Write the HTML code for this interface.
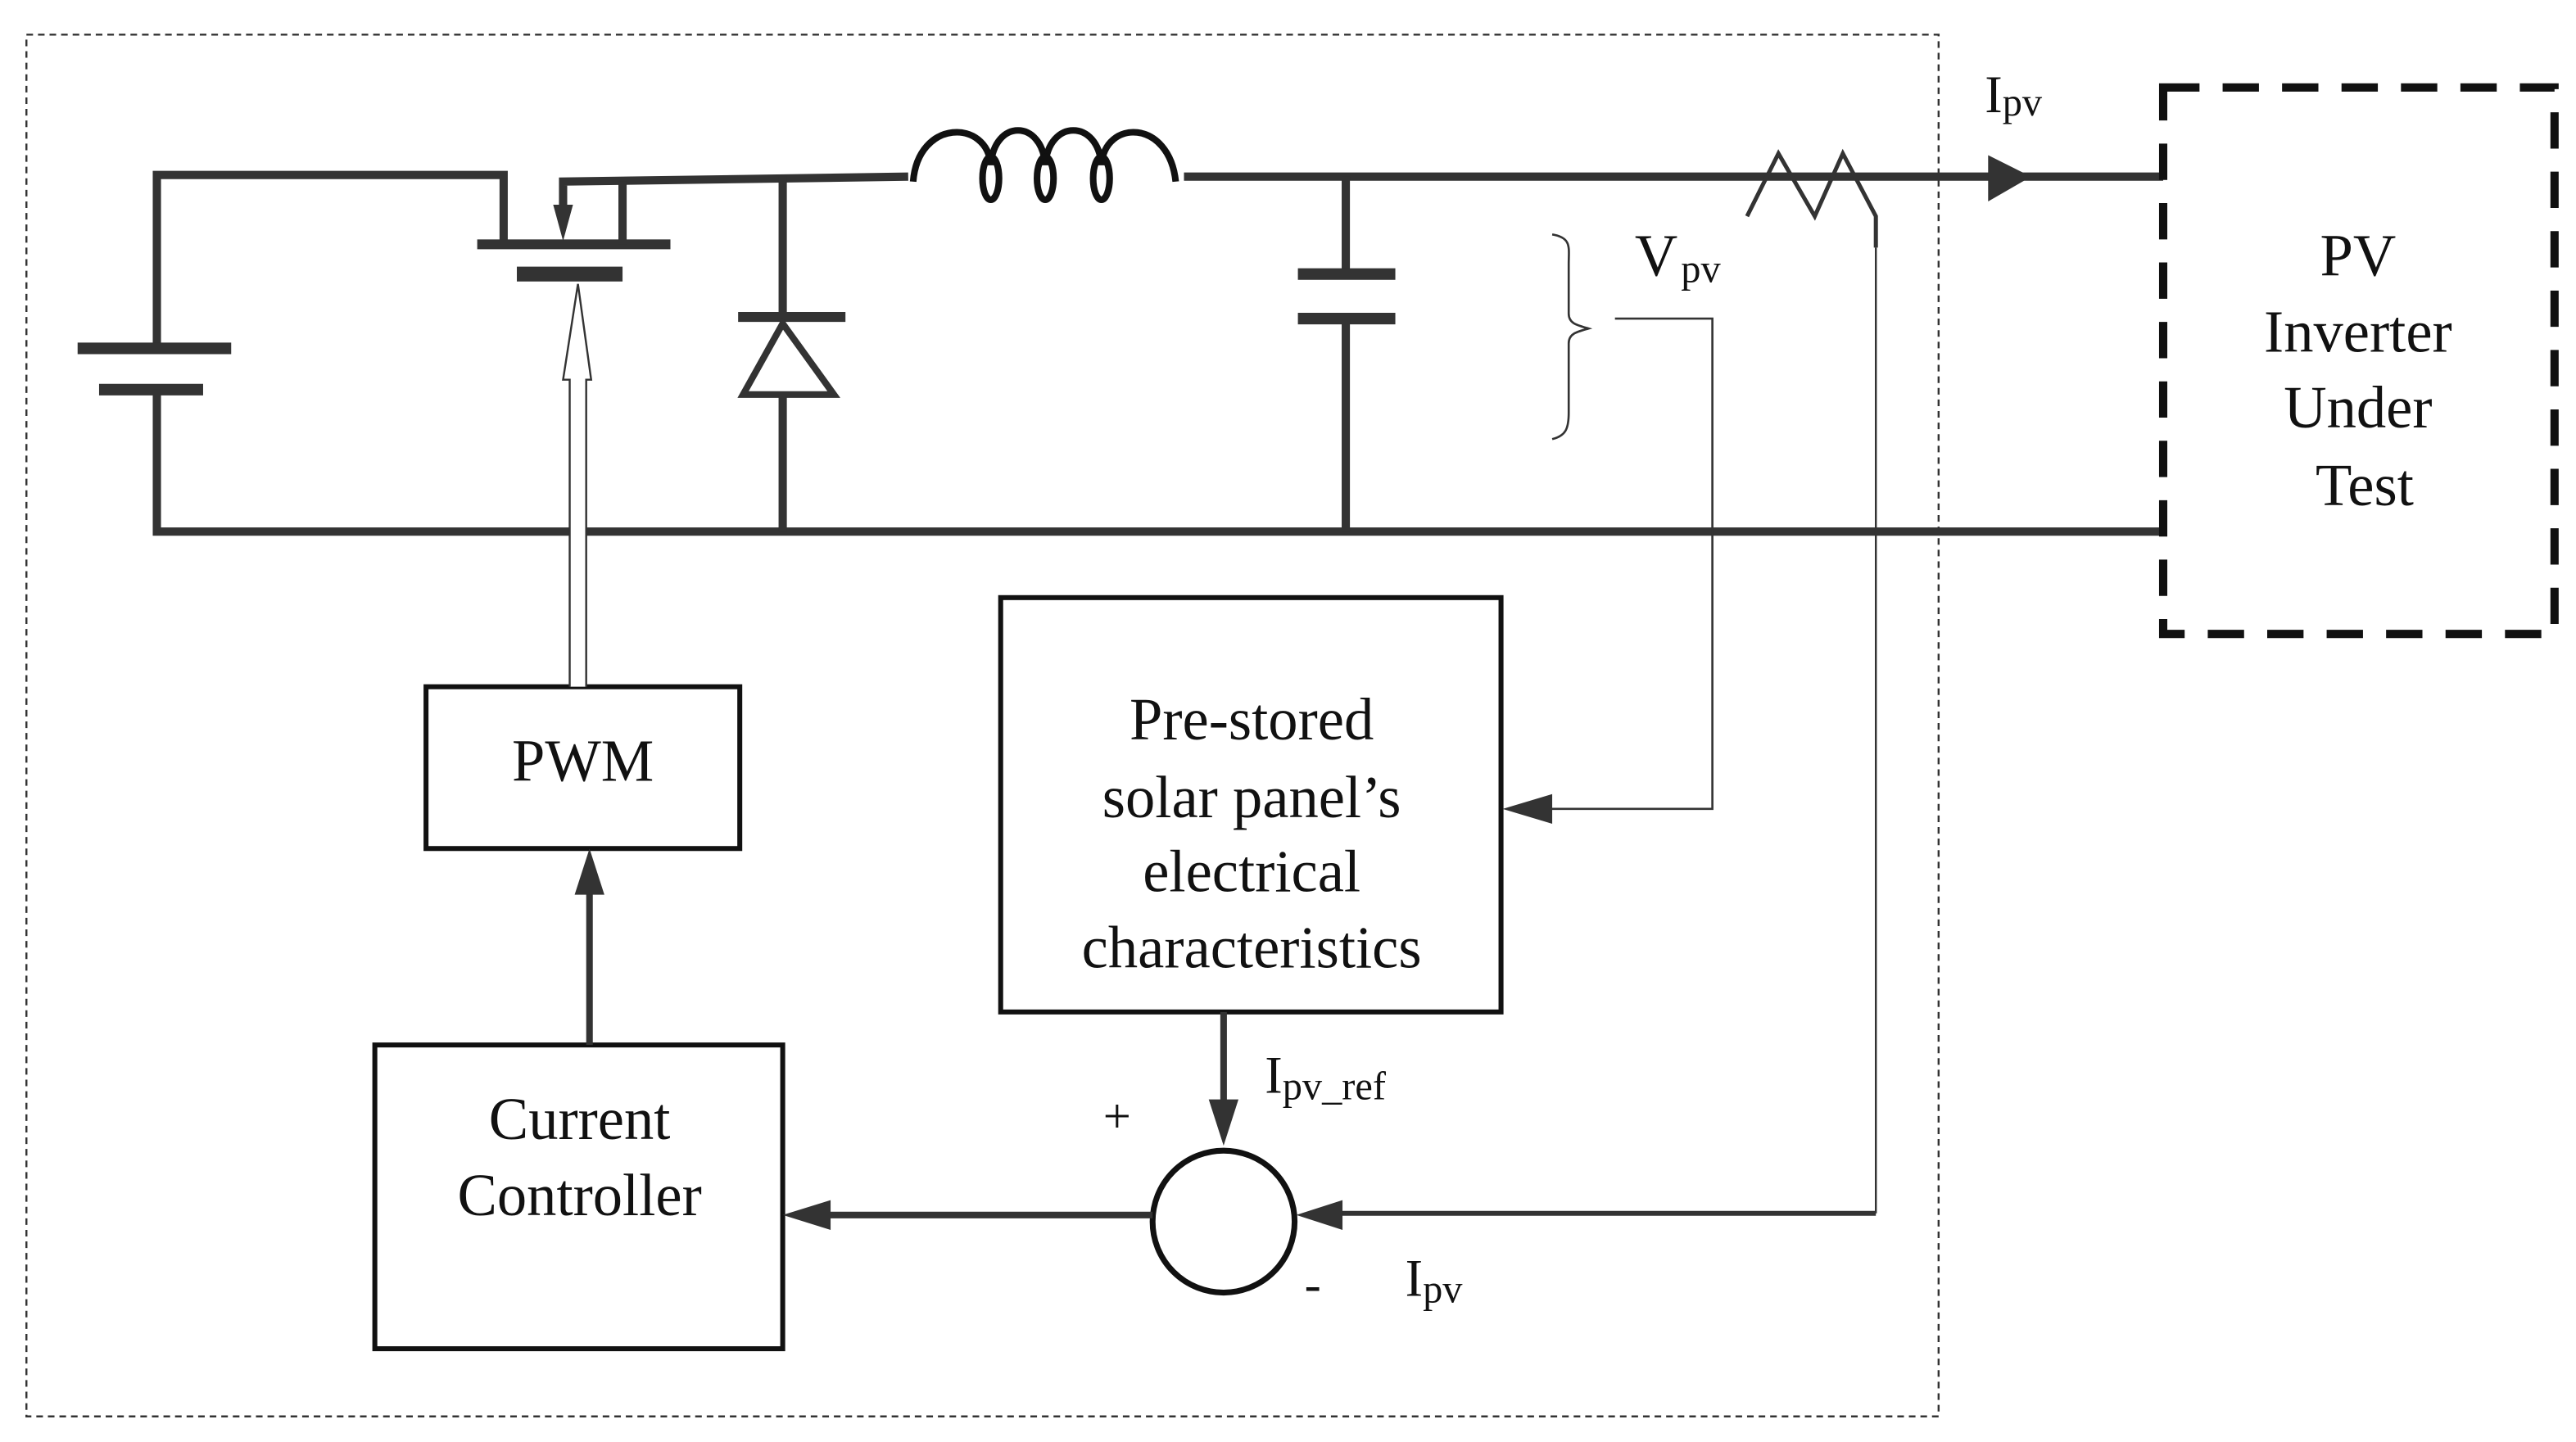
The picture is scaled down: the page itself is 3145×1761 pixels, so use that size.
<!DOCTYPE html>
<html><head><meta charset="utf-8"><style>
html,body{margin:0;padding:0;background:#fff;}
svg{display:block;}
text{font-family:"Liberation Serif",serif;fill:#111;}
</style></head><body>
<svg width="3145" height="1761" viewBox="0 0 1560 873.5" preserveAspectRatio="none" xmlns="http://www.w3.org/2000/svg">
<!-- outer dotted box -->
<rect x="16" y="21" width="1158" height="837" fill="none" stroke="#333" stroke-width="1.2" stroke-dasharray="4,3"/>
<g stroke="#333" stroke-width="5" fill="none">
<polyline points="95,210 95,106 305,106 305,148"/>
<line x1="47" y1="211" x2="140" y2="211" stroke-width="7"/>
<line x1="60" y1="236" x2="123" y2="236" stroke-width="7"/>
<polyline points="95,236 95,322 1310,322"/>
<line x1="289" y1="148" x2="406" y2="148" stroke-width="6"/>
<line x1="313" y1="166" x2="377" y2="166" stroke-width="9"/>
<polyline points="341,128 341,110 550,107"/>
<line x1="377" y1="110" x2="377" y2="148"/>
<line x1="474" y1="107" x2="474" y2="192"/>
<line x1="447" y1="192" x2="512" y2="192" stroke-width="6"/>
<polygon points="474,196 450,239 505,239" stroke-width="4"/>
<line x1="474" y1="240" x2="474" y2="322"/>
<line x1="717" y1="107" x2="1310" y2="107"/>
<line x1="815" y1="107" x2="815" y2="166"/>
<line x1="786" y1="166" x2="845" y2="166" stroke-width="7"/>
<line x1="786" y1="193" x2="845" y2="193" stroke-width="7"/>
<line x1="815" y1="193" x2="815" y2="322"/>
</g>
<polygon points="335,124 347,124 341,146" fill="#333"/>
<!-- inductor -->
<g fill="none" stroke="#111" stroke-width="4">
<path d="M553,110 C556,72 598,72 600,100 C602,72 631,72 633,100 C635,72 665,72 667,100 C669,72 708,72 712,110"/>
<ellipse cx="600" cy="108" rx="5" ry="13"/>
<ellipse cx="633" cy="108" rx="5" ry="13"/>
<ellipse cx="667" cy="108" rx="5" ry="13"/>
</g>
<polyline points="1058,131 1077,93 1099,131 1116,93 1136,131 1136,150" fill="none" stroke="#333" stroke-width="2.5"/>
<line x1="1136" y1="150" x2="1136" y2="735" stroke="#333" stroke-width="1.2"/>
<polygon points="1204,94 1230,107 1204,122" fill="#333"/>
<rect x="1310" y="53" width="237" height="331" fill="none" stroke="#111" stroke-width="5" stroke-dasharray="22,14"/>
<path d="M940,142 C952,144 950,150 950,160 L950,190 C950,196 955,197 962,199 C955,201 950,202 950,208 L950,250 C950,260 948,264 940,266" fill="none" stroke="#333" stroke-width="1.3"/>
<polyline points="978,193 1037,193 1037,490 922,490" fill="none" stroke="#333" stroke-width="1.3"/>
<polygon points="910,490 940,481 940,499" fill="#333"/>
<rect x="258" y="416" width="190" height="98" fill="none" stroke="#111" stroke-width="3"/>
<rect x="227" y="633" width="247" height="184" fill="none" stroke="#111" stroke-width="3"/>
<rect x="606" y="362" width="303" height="251" fill="none" stroke="#111" stroke-width="3"/>
<path d="M345,416 L345,230 L341,230 L350,172 L358,230 L355,230 L355,416" fill="#fff" stroke="#333" stroke-width="1.2"/>
<line x1="357" y1="633" x2="357" y2="535" stroke="#333" stroke-width="4"/>
<polygon points="357,514 348,542 366,542" fill="#333"/>
<line x1="741" y1="613" x2="741" y2="675" stroke="#333" stroke-width="4"/>
<polygon points="741,694 732,666 750,666" fill="#333"/>
<circle cx="741" cy="740" r="43" fill="none" stroke="#111" stroke-width="3.5"/>
<line x1="1136" y1="735" x2="805" y2="735" stroke="#333" stroke-width="3"/>
<polygon points="785,736 813,727 813,745" fill="#333"/>
<line x1="698" y1="736" x2="495" y2="736" stroke="#333" stroke-width="4"/>
<polygon points="474,736 503,727 503,745" fill="#333"/>
<text x="1202" y="68" font-size="32">I<tspan font-size="24" dy="2">pv</tspan></text>
<text x="990" y="167" font-size="36">V<tspan font-size="24" dy="4" dx="2">pv</tspan></text>
<g font-size="36" text-anchor="middle">
<text x="1428" y="167">PV</text>
<text x="1428" y="213">Inverter</text>
<text x="1428" y="259">Under</text>
<text x="1432" y="306">Test</text>
<text x="353" y="473">PWM</text>
<text x="351" y="690">Current</text>
<text x="351" y="736">Controller</text>
<text x="758" y="448">Pre-stored</text>
<text x="758" y="495">solar panel’s</text>
<text x="758" y="540">electrical</text>
<text x="758" y="586">characteristics</text>
</g>
<text x="766" y="662" font-size="32">I<tspan font-size="24" dy="4">pv_ref</tspan></text>
<text x="668" y="686" font-size="30">+</text>
<text x="790" y="788" font-size="30">-</text>
<text x="851" y="785" font-size="32">I<tspan font-size="24" dy="4">pv</tspan></text>
</svg>
</body></html>
